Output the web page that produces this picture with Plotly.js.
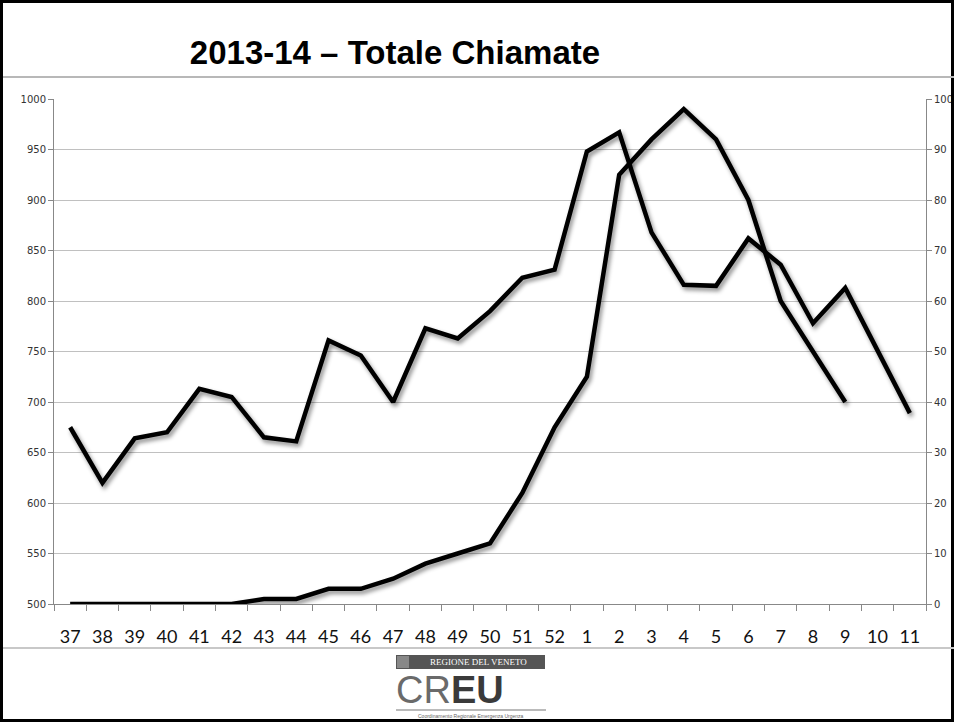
<!DOCTYPE html>
<html>
<head>
<meta charset="utf-8">
<script src="https://cdn.plot.ly/plotly-3.0.1.min.js"></script>
<style>
  body { margin: 0; background: #fff; }
  #chart { width: 954px; height: 722px; }
  /* soft shadow under the lines, like the original slide */
  #chart .scatterlayer .js-line { filter: drop-shadow(2px 3px 2px rgba(0,0,0,0.45)); }
</style>
</head>
<body>
<div id="chart"></div>
<script>
// weeks of the 2013-14 season
var settimane = ["37","38","39","40","41","42","43","44","45","46","47","48","49","50","51","52",
                 "1","2","3","4","5","6","7","8","9","10","11"];

// total calls (left axis)
var chiamate = [675,620,664,670,713,705,665,661,761,746,700,773,763,790,823,831,
                948,967,868,816,815,862,836,778,813,751,689];

// second series (right axis, 0-100)
var serie2 = [0,0,0,0,0,0,1,1,3,3,5,8,10,12,22,35,
              45,85,92,98,92,80,60,50,40,null,null];

var W = 954, H = 722;
var m = {l: 54, r: 28, t: 99, b: 118};
var pw = W - m.l - m.r, ph = H - m.t - m.b;
// pixel -> paper coords, for frame and logo
function px(x) { return (x - m.l) / pw; }
function py(y) { return (H - m.b - y) / ph; }

var traces = [
  {x: settimane, y: chiamate, type: "scatter", mode: "lines", yaxis: "y",
   line: {color: "#000", width: 4.5}, hoverinfo: "x+y"},
  {x: settimane, y: serie2, type: "scatter", mode: "lines", yaxis: "y2",
   line: {color: "#000", width: 4.5}, hoverinfo: "x+y", connectgaps: false}
];

var tickFont = {family: "DejaVu Sans", size: 10, color: "#333"};

var layout = {
  width: W, height: H,
  margin: m,
  paper_bgcolor: "#fff", plot_bgcolor: "#fff",
  showlegend: false,
  title: {
    text: "<b>2013-14 – Totale Chiamate</b>",
    font: {family: "Liberation Sans", size: 33, color: "#000"},
    xref: "container", x: 0.414, xanchor: "center",
    yref: "container", y: 0.928, yanchor: "middle"
  },
  xaxis: {
    type: "category",
    range: [-0.5, settimane.length - 0.5],
    tickson: "boundaries",
    ticks: "outside", ticklen: 6, tickcolor: "#888",
    showline: true, linecolor: "#888", linewidth: 1,
    showgrid: false,
    tickfont: {family: "Lato", size: 18, color: "#111"},
    ticklabelstandoff: 16
  },
  yaxis: {
    range: [500, 1000], dtick: 50,
    ticks: "outside", ticklen: 5, tickcolor: "#888",
    showline: true, linecolor: "#888", linewidth: 1,
    gridcolor: "#c0c0c0", gridwidth: 1,
    zeroline: false,
    tickfont: tickFont
  },
  yaxis2: {
    overlaying: "y", side: "right",
    range: [0, 100], dtick: 10,
    ticks: "outside", ticklen: 5, tickcolor: "#888",
    showline: true, linecolor: "#888", linewidth: 1,
    showgrid: false, zeroline: false,
    tickfont: tickFont
  },
  shapes: [
    // slide frame
    {type: "rect", xref: "paper", yref: "paper",
     x0: px(1.5), x1: px(952.5), y0: py(720.5), y1: py(1.5),
     line: {color: "#000", width: 3}},
    // separator under title
    {type: "line", xref: "paper", yref: "paper",
     x0: px(3), x1: px(954), y0: py(77), y1: py(77),
     line: {color: "#b8b8b8", width: 2}},
    // separator above logo
    {type: "line", xref: "paper", yref: "paper",
     x0: px(3), x1: px(954), y0: py(648), y1: py(648),
     line: {color: "#c8c8c8", width: 2}},
    // logo badge
    {type: "rect", xref: "paper", yref: "paper",
     x0: px(396), x1: px(545), y0: py(669), y1: py(655),
     fillcolor: "#555", line: {width: 0}},
    {type: "rect", xref: "paper", yref: "paper",
     x0: px(397), x1: px(409), y0: py(668), y1: py(656),
     fillcolor: "#888", line: {width: 0}},
    // line under CREU
    {type: "line", xref: "paper", yref: "paper",
     x0: px(396), x1: px(546), y0: py(710), y1: py(710),
     line: {color: "#777", width: 1}}
  ],
  annotations: [
    {xref: "paper", yref: "paper", x: px(478), y: py(662),
     xanchor: "center", yanchor: "middle", showarrow: false,
     text: "REGIONE DEL VENETO",
     font: {family: "Liberation Serif", size: 9, color: "#fff"}},
    {xref: "paper", yref: "paper", x: px(394), y: py(690),
     xanchor: "left", yanchor: "middle", showarrow: false,
     text: "CR<b><span style='color:#3a3a3a'>EU</span></b>",
     font: {family: "Liberation Sans", size: 38, color: "#6a6a6a"}},
    {xref: "paper", yref: "paper", x: px(471), y: py(716),
     xanchor: "center", yanchor: "middle", showarrow: false,
     text: "Coordinamento Regionale Emergenza Urgenza",
     font: {family: "Liberation Sans", size: 5, color: "#666"}}
  ]
};

Plotly.newPlot("chart", traces, layout, {staticPlot: true});
</script>
</body>
</html>
